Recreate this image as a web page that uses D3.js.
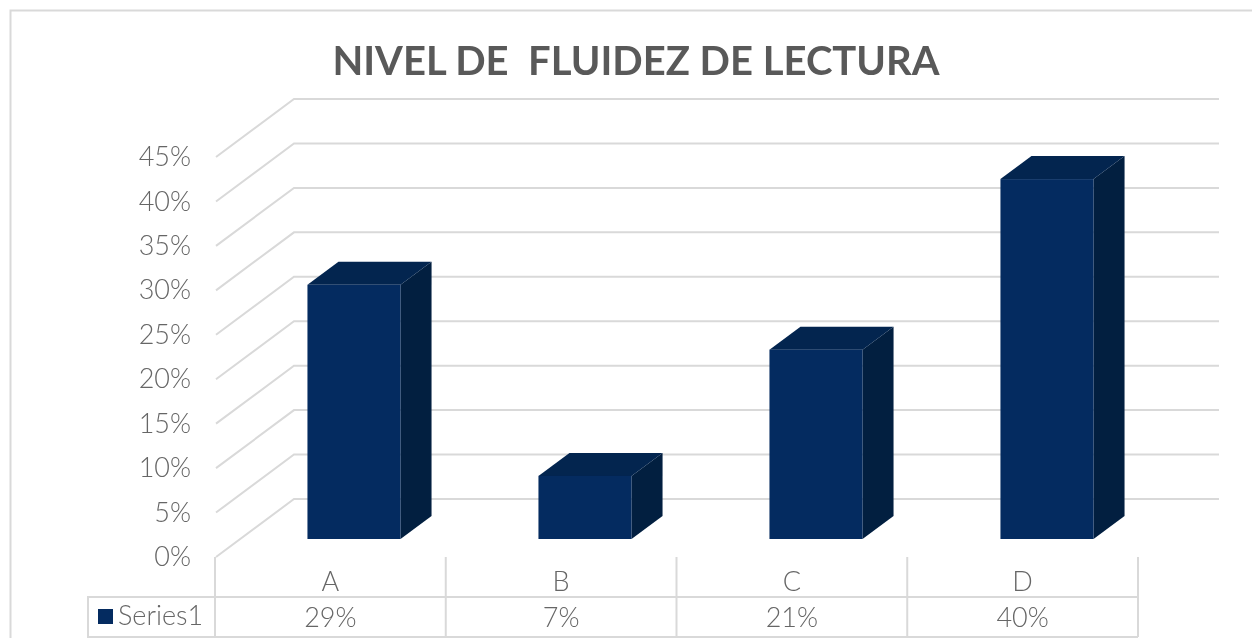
<!DOCTYPE html>
<html>
<head>
<meta charset="utf-8">
<script src="https://cdn.jsdelivr.net/npm/d3@7"></script>
<style>
html, body { margin: 0; padding: 0; background: #fff; overflow: hidden; }
svg { display: block; font-family: Lato, "Open Sans", sans-serif; filter: blur(0.4px); }
</style>
</head>
<body>
<div id="chart"></div>
<script>
var chartTitle = "NIVEL DE  FLUIDEZ DE LECTURA";
var seriesName = "Series1";
var categories = ["A", "B", "C", "D"];
var values = [0.286, 0.071, 0.213, 0.4049];
var yTicks = [0, 0.05, 0.1, 0.15, 0.2, 0.25, 0.3, 0.35, 0.4, 0.45];

var width = 1252, height = 638;

// colours
var gridColor = "#d9d9d9";
var labelColor = "#666666";
var frontColor = "#042b60";
var topColor = "#03254f";
var sideColor = "#021f40";

// wall depth and bar depth of the fake 3d
var wallDx = 78, wallDy = -58;
var barDx = 31, barDy = -23;
var barShift = -18; // bar foot sits above the front floor edge

var svg = d3.select("#chart").append("svg")
	.attr("width", width)
	.attr("height", height);

var y = d3.scaleLinear()
	.domain([0, 0.45])
	.range([557, 157]);

var xBar = d3.scaleBand()
	.domain(categories)
	.range([238.5, 1162.5])
	.paddingInner(0.597)
	.paddingOuter(0.2985);

var xTable = d3.scaleBand()
	.domain(categories)
	.range([215, 1138]);

// chart frame
svg.append("path")
	.attr("d", "M10.5," + height + "V10.5H" + width)
	.attr("fill", "none")
	.attr("stroke", gridColor)
	.attr("stroke-width", 2);

svg.append("text")
	.attr("x", 636)
	.attr("y", 75)
	.attr("text-anchor", "middle")
	.attr("font-size", 40)
	.attr("font-weight", 700)
	.attr("fill", "#595959")
	.style("white-space", "pre")
	.text(chartTitle);

// grid lines on left wall and back wall
svg.append("g")
	.attr("fill", "none")
	.attr("stroke", gridColor)
	.attr("stroke-width", 2)
	.selectAll("path")
	.data(yTicks)
	.enter().append("path")
	.attr("d", function(d) {
		return "M216," + y(d) + "L" + (216 + wallDx) + "," + (y(d) + wallDy) + "H1219";
	});

// value axis
var yAxis = svg.append("g")
	.attr("transform", "translate(191,0)")
	.call(d3.axisLeft(y).tickValues(yTicks).tickSize(0).tickPadding(0).tickFormat(d3.format(".0%")));
yAxis.select(".domain").remove();
yAxis.selectAll("text")
	.attr("font-family", "Lato, sans-serif")
	.attr("font-size", 27)
	.attr("font-weight", 300)
	.attr("fill", labelColor);

// bars
var bars = svg.append("g")
	.selectAll("g")
	.data(values)
	.enter().append("g");

function barPoints(i, v) {
	var x0 = xBar(categories[i]);
	return {
		x0: x0,
		x1: x0 + xBar.bandwidth(),
		yb: y(0) + barShift,
		yt: y(v) + barShift
	};
}

bars.append("polygon")
	.attr("fill", sideColor)
	.attr("points", function(d, i) {
		var p = barPoints(i, d);
		return [[p.x1, p.yt], [p.x1 + barDx, p.yt + barDy], [p.x1 + barDx, p.yb + barDy], [p.x1, p.yb]].join(" ");
	});

bars.append("polygon")
	.attr("fill", topColor)
	.attr("points", function(d, i) {
		var p = barPoints(i, d);
		return [[p.x0, p.yt], [p.x0 + barDx, p.yt + barDy], [p.x1 + barDx, p.yt + barDy], [p.x1, p.yt]].join(" ");
	});

bars.append("rect")
	.attr("fill", frontColor)
	.attr("x", function(d, i) { return barPoints(i, d).x0; })
	.attr("y", function(d, i) { return barPoints(i, d).yt; })
	.attr("width", xBar.bandwidth())
	.attr("height", function(d, i) {
		var p = barPoints(i, d);
		return p.yb - p.yt;
	});

// data table under the chart
var table = svg.append("g")
	.attr("fill", "none")
	.attr("stroke", gridColor)
	.attr("stroke-width", 2);

table.selectAll("line.col")
	.data(categories.concat(["end"]))
	.enter().append("line")
	.attr("class", "col")
	.attr("x1", function(d, i) { return 215 + i * xTable.step(); })
	.attr("x2", function(d, i) { return 215 + i * xTable.step(); })
	.attr("y1", 557)
	.attr("y2", 637);

table.append("path").attr("d", "M1138,597H88V637H1138");

var catAxis = svg.append("g")
	.attr("transform", "translate(0,572)")
	.call(d3.axisBottom(xTable).tickSize(0).tickPadding(0));
catAxis.select(".domain").remove();
catAxis.selectAll("text")
	.attr("font-family", "Lato, sans-serif")
	.attr("font-size", 27)
	.attr("font-weight", 300)
	.attr("fill", labelColor);

svg.append("g")
	.selectAll("text")
	.data(values)
	.enter().append("text")
	.attr("x", function(d, i) { return xTable(categories[i]) + xTable.bandwidth() / 2; })
	.attr("y", 627)
	.attr("text-anchor", "middle")
	.attr("font-size", 27)
	.attr("font-weight", 300)
	.attr("fill", labelColor)
	.text(function(d) { return d3.format(".0%")(d); });

// legend key
svg.append("rect")
	.attr("x", 98)
	.attr("y", 609)
	.attr("width", 15)
	.attr("height", 15)
	.attr("fill", frontColor);

svg.append("text")
	.attr("x", 118)
	.attr("y", 625)
	.attr("font-size", 27)
	.attr("font-weight", 300)
	.attr("fill", labelColor)
	.text(seriesName);
</script>
</body>
</html>
